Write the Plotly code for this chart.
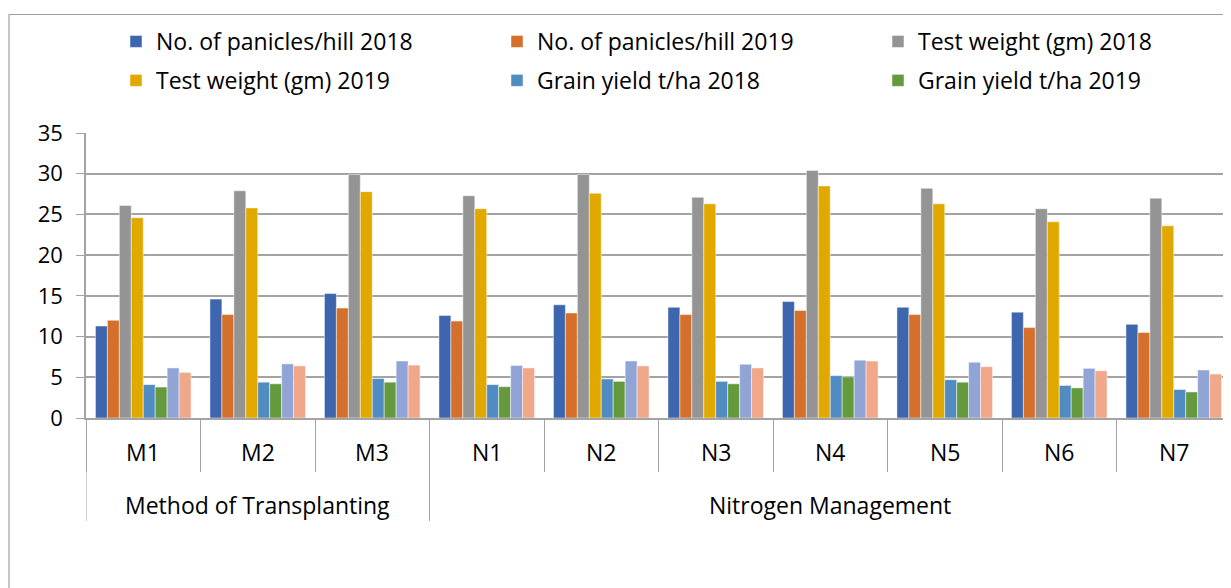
import plotly.graph_objects as go

groups = ["Method of Transplanting"] * 3 + ["Nitrogen Management"] * 7
categories = ["M1", "M2", "M3", "N1", "N2", "N3", "N4", "N5", "N6", "N7"]

panicles_2018 = [11.3, 14.6, 15.3, 12.6, 13.9, 13.6, 14.3, 13.6, 13.0, 11.5]
panicles_2019 = [12.0, 12.7, 13.5, 11.9, 12.9, 12.7, 13.2, 12.7, 11.1, 10.5]
test_wt_2018 = [26.1, 27.9, 29.9, 27.3, 29.9, 27.1, 30.4, 28.2, 25.7, 27.0]
test_wt_2019 = [24.6, 25.8, 27.8, 25.7, 27.6, 26.3, 28.5, 26.3, 24.1, 23.6]
yield_2018 = [4.1, 4.4, 4.85, 4.1, 4.8, 4.5, 5.2, 4.7, 4.0, 3.5]
yield_2019 = [3.8, 4.2, 4.4, 3.85, 4.5, 4.2, 5.05, 4.4, 3.7, 3.2]
series7 = [6.15, 6.65, 7.0, 6.45, 7.0, 6.6, 7.1, 6.85, 6.1, 5.9]
series8 = [5.6, 6.4, 6.5, 6.15, 6.4, 6.15, 7.0, 6.3, 5.8, 5.4]

# (name, values, colour, legend id or None)
series = [
    ("No. of panicles/hill 2018", panicles_2018, "#3D66AF", "legend"),
    ("No. of panicles/hill 2019", panicles_2019, "#D46F2C", "legend2"),
    ("Test weight (gm) 2018", test_wt_2018, "#949494", "legend3"),
    ("Test weight (gm) 2019", test_wt_2019, "#E1A900", "legend"),
    ("Grain yield t/ha 2018", yield_2018, "#508BC1", "legend2"),
    ("Grain yield t/ha 2019", yield_2019, "#64993D", "legend3"),
    ("Series 7", series7, "#90A5D6", None),
    ("Series 8", series8, "#F1A78A", None),
]

# page body has an 8px margin; figure sized to fit the 1231x588 window
OFF = 8
W, H = 1223, 580
L, R, T, B = 78, 0, 125, 170
PW = W - L - R
PH = H - T - B
FONT = "Open Sans"

def py(p):
    return (H - B - (p - OFF)) / PH

def px(p):
    return (p - OFF - L) / PW

fig = go.Figure()
for i, (name, vals, col, leg) in enumerate(series):
    fig.add_trace(go.Bar(x=categories, y=vals, name=name, marker_color=col,
                         marker_line=dict(color="rgba(255,255,255,0.6)", width=0.8),
                         showlegend=leg is not None, legend=leg or "legend",
                         legendgroup="g%d" % i))

grid = "#A3A3A3"
legend_common = dict(orientation="v", xanchor="left", yanchor="top", itemwidth=30,
                     font=dict(family=FONT, size=23, color="black"), tracegroupgap=6,
                     bgcolor="rgba(0,0,0,0)")
fig.update_layout(
    width=W, height=H,
    margin=dict(l=L, r=R, t=T, b=B, autoexpand=False),
    paper_bgcolor="white", plot_bgcolor="white",
    barmode="group", bargap=0.165, bargroupgap=0.0,
    font=dict(family=FONT, size=23, color="black"),
    legend=dict(x=px(116), y=py(20), **legend_common),
    legend2=dict(x=px(497), y=py(20), **legend_common),
    legend3=dict(x=px(878), y=py(20), **legend_common),
    xaxis=dict(type="category", showticklabels=False, ticks="outside", tickson="boundaries",
               ticklen=52, tickcolor=grid, tickwidth=1, showline=True, linecolor=grid, linewidth=1.5,
               showgrid=False, range=[-0.5, 9.5]),
    yaxis=dict(range=[0, 35], dtick=5, showgrid=True, gridcolor=grid, gridwidth=1.5,
               showline=True, linecolor=grid, linewidth=1.5, ticks="outside", ticklen=8,
               tickcolor=grid, tickfont=dict(size=22, family=FONT), zeroline=False,
               ticklabelstandoff=9),
)

for c in categories:
    fig.add_annotation(x=c, xref="x", y=py(452), yref="paper", text=c, showarrow=False,
                       font=dict(size=23, family=FONT), yanchor="middle")

fig.add_annotation(x=1, xref="x", y=py(505), yref="paper", text=groups[0],
                   showarrow=False, font=dict(size=23, family=FONT), yanchor="middle")
fig.add_annotation(x=6, xref="x", y=py(505), yref="paper", text=groups[-1],
                   showarrow=False, font=dict(size=23, family=FONT), yanchor="middle")

for xb in [-0.5, 2.5]:
    fig.add_shape(type="line", xref="x", yref="paper", x0=xb, x1=xb, y0=0, y1=py(521),
                  line=dict(color=grid, width=1))

fig.add_shape(type="rect", xref="paper", yref="paper",
              x0=px(OFF + 1), x1=px(1260), y0=py(14.5), y1=py(620),
              line=dict(color="#A0A0A0", width=1.2), layer="below")

fig.write_html("out.html")
